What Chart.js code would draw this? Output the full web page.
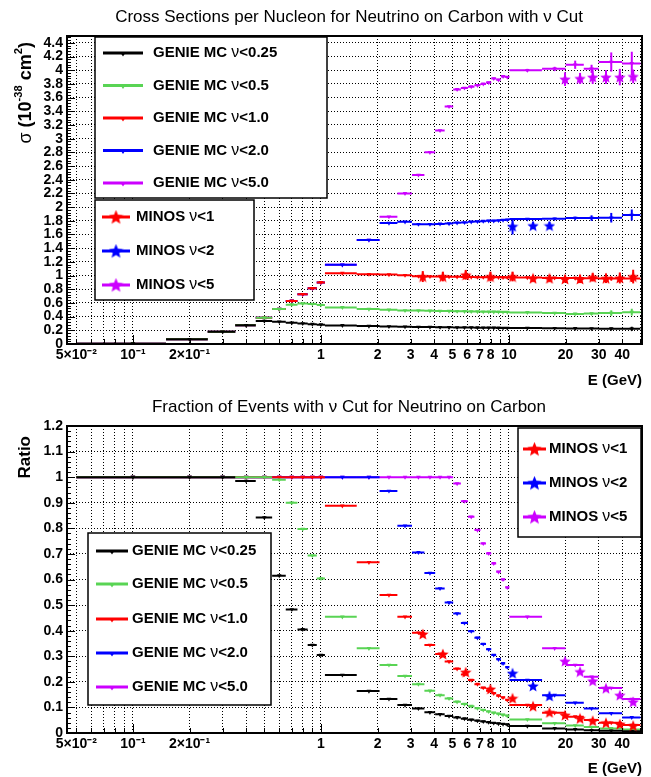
<!DOCTYPE html>
<html>
<head>
<meta charset="utf-8">
<title>Neutrino on Carbon with nu cut</title>
<script src="https://cdn.jsdelivr.net/npm/chart.js@4.4.1/dist/chart.umd.min.js"></script>
<style>
  html, body { margin: 0; padding: 0; background: #fff; }
  body { position: relative; width: 651px; height: 777px; overflow: hidden;
         font-family: "Liberation Sans", Arial, Helvetica, sans-serif; color: #000; }
  canvas { position: absolute; left: 0; }
  #xsChart { top: 0; }
  #ratioChart { top: 388px; }
  .title { position: absolute; left: 0; width: 698px; text-align: center; font-size: 17px; line-height: 18px; white-space: nowrap; }
  .ytitle { position: absolute; writing-mode: vertical-rl; transform: rotate(180deg);
            font-weight: bold; line-height: 20px; white-space: nowrap; }
  .ytitle sup { font-size: 62%; }
  .xtitle { position: absolute; right: 9px; font-weight: bold; font-size: 15px; line-height: 18px; }
</style>
</head>
<body>
<canvas id="xsChart" width="651" height="388"></canvas>
<canvas id="ratioChart" width="651" height="389"></canvas>

<div class="title" style="top:8px">Cross Sections per Nucleon for Neutrino on Carbon with ν Cut</div>
<div class="title" style="top:398px">Fraction of Events with ν Cut for Neutrino on Carbon</div>
<div class="ytitle" style="left:8px;top:42px;font-size:18px"><span style="font-weight:normal">σ</span> (10<sup>-38</sup> cm<sup>2</sup>)</div>
<div class="ytitle" style="left:15px;top:436px;font-size:17px">Ratio</div>
<div class="xtitle" style="top:371px">E (GeV)</div>
<div class="xtitle" style="top:759px">E (GeV)</div>

<script>
/* Cross sections and event fractions with nu cut - two ROOT-like panels (Chart.js) */

// energy bin edges of the GENIE histograms (GeV)
const binEdges = [0.05, 0.15, 0.25, 0.35, 0.45, 0.55, 0.65, 0.75, 0.85, 0.95, 1.05,
  1.55, 2.05, 2.55, 3.05, 3.55, 4.05, 4.55, 5.05, 5.55, 6.05, 6.55, 7.05, 7.55, 8.05,
  8.55, 9.05, 9.55, 10.05, 15, 20, 25, 30, 40, 50];

// cross section per nucleon (1e-38 cm2), one value per bin
const xsBlack = [0.005, 0.07, 0.18, 0.275, 0.335, 0.325, 0.31, 0.30, 0.29, 0.283,
  0.272, 0.262, 0.256, 0.252, 0.249, 0.247, 0.245, 0.243, 0.242, 0.241, 0.240, 0.239, 0.238, 0.237, 0.236, 0.235, 0.234, 0.233,
  0.232, 0.230, 0.228, 0.226, 0.224, 0.222];
const xsGreen = [0.005, 0.07, 0.18, 0.275, 0.385, 0.51, 0.575, 0.59, 0.585, 0.57,
  0.535, 0.51, 0.50, 0.49, 0.488, 0.485, 0.483, 0.481, 0.479, 0.477, 0.475, 0.474, 0.472, 0.471, 0.47, 0.469, 0.468, 0.467,
  0.462, 0.452, 0.44, 0.445, 0.452, 0.465];
const xsRed = [0.005, 0.07, 0.18, 0.275, 0.385, 0.51, 0.63, 0.727, 0.815, 0.90,
  1.035, 1.02, 1.015, 1.005, 0.99, 0.987, 0.985, 0.983, 0.981, 0.98, 0.978, 0.977, 0.976, 0.975, 0.975, 0.974, 0.973, 0.972,
  0.97, 0.966, 0.963, 0.961, 0.958, 0.956];
const xsBlue = [0.005, 0.07, 0.18, 0.275, 0.385, 0.51, 0.63, 0.727, 0.815, 0.90,
  1.157, 1.52, 1.767, 1.785, 1.75, 1.75, 1.755, 1.76, 1.77, 1.775, 1.785, 1.79, 1.795, 1.80, 1.80, 1.805, 1.81, 1.815,
  1.825, 1.83, 1.84, 1.84, 1.845, 1.885];
const xsMagenta = [0.005, 0.07, 0.18, 0.275, 0.385, 0.51, 0.63, 0.727, 0.815, 0.90,
  1.157, 1.52, 1.86, 2.20, 2.47, 2.80, 3.12, 3.47, 3.72, 3.74, 3.76, 3.78, 3.80, 3.82, 3.88, 3.86, 3.91, 3.90,
  4.00, 4.02, 4.08, 4.02, 4.12, 4.10];

// statistical errors of the last six bins (10-50 GeV)
const TAIL_START = 28;
const errTailBlack = [0.005, 0.005, 0.01, 0.01, 0.015, 0.03];
const errTailGreen = [0.01, 0.01, 0.015, 0.015, 0.04, 0.05];
const errTailRed = [0.01, 0.01, 0.02, 0.02, 0.03, 0.05];
const errTailBlue = [0.01, 0.015, 0.02, 0.04, 0.07, 0.08];
const errTailMagenta = [0.02, 0.03, 0.06, 0.06, 0.14, 0.17];

// fraction of events passing the cut
const frBlack = [1, 1, 1, 0.985, 0.842, 0.615, 0.483, 0.405, 0.344, 0.305,
  0.227, 0.164, 0.133, 0.109, 0.096, 0.081, 0.073, 0.066, 0.061, 0.056, 0.052, 0.048, 0.045, 0.042, 0.039, 0.037, 0.035, 0.033,
  0.027, 0.018, 0.014, 0.011, 0.009, 0.007];
const frGreen = [1, 1, 1, 1, 1, 0.99, 0.90, 0.797, 0.694, 0.604,
  0.454, 0.331, 0.266, 0.223, 0.191, 0.165, 0.148, 0.135, 0.122, 0.113, 0.105, 0.097, 0.090, 0.084, 0.079, 0.075, 0.071, 0.067,
  0.053, 0.038, 0.029, 0.023, 0.018, 0.014];
const frRed = [1, 1, 1, 1, 1, 1, 1, 1, 1, 1,
  0.888, 0.667, 0.539, 0.454, 0.392, 0.344, 0.309, 0.279, 0.251, 0.229, 0.207, 0.191, 0.177, 0.165, 0.155, 0.146, 0.139, 0.129,
  0.109, 0.079, 0.064, 0.051, 0.040, 0.031];
const frBlue = [1, 1, 1, 1, 1, 1, 1, 1, 1, 1, 1, 1,
  0.946, 0.81, 0.706, 0.625, 0.565, 0.51, 0.467, 0.43, 0.398, 0.372, 0.348, 0.327, 0.305, 0.288, 0.272, 0.257,
  0.207, 0.148, 0.118, 0.096, 0.077, 0.061];
const frMagenta = [1, 1, 1, 1, 1, 1, 1, 1, 1, 1, 1, 1, 1, 1, 1, 1, 1, 1,
  0.975, 0.906, 0.845, 0.793, 0.741, 0.702, 0.663, 0.63, 0.60, 0.569,
  0.454, 0.331, 0.266, 0.22, 0.176, 0.133];

// MINOS points
const minosE1 = [3.48, 4.45, 5.89, 7.97, 10.45, 13.43, 16.42, 19.87, 23.88, 27.89, 32.81, 38.87, 45.77];
const minosXs1 = [0.985, 0.985, 1.01, 0.985, 0.985, 0.96, 0.96, 0.95, 0.95, 0.975, 0.96, 0.965, 0.985];
const minosXsErr1 = [0.08, 0.07, 0.07, 0.07, 0.07, 0.05, 0.05, 0.05, 0.06, 0.06, 0.07, 0.08, 0.1];
const minosFr1 = [0.387, 0.309, 0.238, 0.172, 0.136, 0.105, 0.081, 0.07, 0.057, 0.048, 0.040, 0.035, 0.029];
const minosE2 = [10.45, 13.43, 16.42];
const minosXs2 = [1.72, 1.73, 1.73];
const minosXsErr2 = [0.12, 0.05, 0.05];
const minosFr2 = [0.234, 0.184, 0.145];
const minosE5 = [19.87, 23.88, 27.89, 32.81, 38.87, 45.77];
const minosXs5 = [3.87, 3.88, 3.90, 3.90, 3.90, 3.91];
const minosXsErr5 = [0.1, 0.08, 0.1, 0.1, 0.12, 0.1];
const minosFr5 = [0.281, 0.24, 0.204, 0.175, 0.148, 0.122];

// axis ticks
const xTickValues = [0.05, 0.06, 0.07, 0.08, 0.09, 0.1, 0.2, 0.3, 0.4, 0.5, 0.6, 0.7, 0.8, 0.9,
  1, 2, 3, 4, 5, 6, 7, 8, 9, 10, 20, 30, 40, 50];
const xTickText = ['5×10⁻²', '', '', '', '', '10⁻¹', '2×10⁻¹', '', '', '', '', '', '', '',
  '1', '2', '3', '4', '5', '6', '7', '8', '', '10', '20', '30', '40', ''];
const yTicksXs = [0, 0.2, 0.4, 0.6, 0.8, 1, 1.2, 1.4, 1.6, 1.8, 2, 2.2, 2.4, 2.6, 2.8, 3, 3.2, 3.4, 3.6, 3.8, 4, 4.2, 4.4];
const yTicksFr = [0, 0.1, 0.2, 0.3, 0.4, 0.5, 0.6, 0.7, 0.8, 0.9, 1, 1.1, 1.2];

const FONT = '"Liberation Sans", Arial, Helvetica, sans-serif';
const COLORS = { black: '#000000', green: '#59d454', red: '#ff0000', blue: '#0000ff', magenta: '#cc00ff' };
const X_MIN = 0.0446;
const X_MAX = 51;

Chart.defaults.font.family = FONT;

function starImage(color, size) {
  const c = document.createElement('canvas');
  c.width = size; c.height = size;
  const g = c.getContext('2d');
  const R = size / 2, r = R * 0.45;
  g.beginPath();
  for (let k = 0; k < 10; k += 1) {
    const ang = -Math.PI / 2 + k * Math.PI / 5;
    const rr = k % 2 ? r : R;
    g.lineTo(R + rr * Math.cos(ang), R + 0.6 + rr * Math.sin(ang));
  }
  g.closePath();
  g.fillStyle = color;
  g.fill();
  return c;
}

function histPoints(values) {
  const pts = [];
  values.forEach((v, i) => {
    const lo = binEdges[i], hi = binEdges[i + 1];
    pts.push({ x: lo, y: v }, { x: (lo + hi) / 2, y: v }, { x: hi, y: v }, { x: hi, y: null });
  });
  return pts;
}

function mcDataset(label, color, values, tailErr) {
  const errs = values.map((v, i) => (tailErr && i >= TAIL_START ? tailErr[i - TAIL_START] : 0));
  return {
    label,
    data: histPoints(values),
    isHist: true,
    errs,
    borderColor: color,
    backgroundColor: color,
    borderWidth: 2,
    pointRadius: (c) => (c.index % 4 === 1 ? 2.6 : 0),
    pointStyle: 'triangle',
    pointRotation: 180,
    pointBorderWidth: 0,
    spanGaps: false,
    fill: false,
    tension: 0,
  };
}

function minosDataset(label, color, energies, values, errs) {
  return {
    label,
    data: energies.map((e, i) => ({ x: e, y: values[i] })),
    errs: errs || null,
    borderColor: color,
    backgroundColor: color,
    showLine: false,
    pointStyle: starImage(color, 12),
    pointRadius: 5,
    order: -1,
  };
}

// vertical error bars
const errorBars = {
  id: 'errorBars',
  afterDatasetsDraw(chart) {
    const { ctx } = chart;
    const y = chart.scales.y;
    chart.data.datasets.forEach((ds, di) => {
      if (!ds.errs) return;
      const meta = chart.getDatasetMeta(di);
      ctx.save();
      ctx.beginPath();
      ctx.rect(chart.chartArea.left, chart.chartArea.top, chart.chartArea.width, chart.chartArea.height);
      ctx.clip();
      ctx.strokeStyle = ds.borderColor;
      ctx.lineWidth = 2;
      ds.errs.forEach((e, i) => {
        if (!e) return;
        const idx = ds.isHist ? 4 * i + 1 : i;
        const pt = meta.data[idx];
        const v = ds.data[idx].y;
        ctx.beginPath();
        ctx.moveTo(pt.x, y.getPixelForValue(v - e));
        ctx.lineTo(pt.x, y.getPixelForValue(v + e));
        ctx.stroke();
      });
      ctx.restore();
    });
  },
};

// frame, inward tick marks and boxed legends
function drawLabel(ctx, text, x, y) {
  const parts = text.split('ν');
  ctx.textBaseline = 'middle';
  ctx.textAlign = 'left';
  ctx.fillStyle = '#000';
  let cx = x;
  parts.forEach((p, k) => {
    if (k > 0) {
      ctx.font = `16px ${FONT}`;
      ctx.fillText('ν', cx, y);
      cx += ctx.measureText('ν').width;
    }
    ctx.font = `bold 15px ${FONT}`;
    ctx.fillText(p, cx, y);
    cx += ctx.measureText(p).width;
  });
}

const rootFrame = {
  id: 'rootFrame',
  afterDraw(chart, args, opts) {
    const { ctx, chartArea: a } = chart;
    const { x, y } = chart.scales;
    ctx.save();
    ctx.strokeStyle = '#000';
    ctx.lineWidth = 1;
    ctx.beginPath();
    xTickValues.forEach((v) => {
      const px = Math.round(x.getPixelForValue(v)) + 0.5;
      const len = (v === 0.1 || v === 1 || v === 10) ? 9 : 5;
      ctx.moveTo(px, a.bottom);
      ctx.lineTo(px, a.bottom - len);
    });
    const yt = opts.yTicks;
    const step = yt[1] - yt[0];
    yt.forEach((v) => {
      for (let k = 0; k < 5; k += 1) {
        const val = v + (k * step) / 5;
        if (val > y.max) break;
        const py = Math.round(y.getPixelForValue(val)) + 0.5;
        ctx.moveTo(a.left, py);
        ctx.lineTo(a.left + (k === 0 ? 8 : 4), py);
      }
    });
    ctx.stroke();
    ctx.lineWidth = 2;
    ctx.strokeRect(a.left, a.top, a.right - a.left, a.bottom - a.top);

    (opts.boxes || []).forEach((box) => {
      ctx.fillStyle = '#fff';
      ctx.fillRect(box.x, box.y, box.w, box.h);
      ctx.strokeStyle = '#000';
      ctx.lineWidth = 1.5;
      ctx.strokeRect(box.x, box.y, box.w, box.h);
      box.rows.forEach((rowY, k) => {
        const ds = chart.data.datasets[box.datasets[k]];
        const color = ds.borderColor;
        ctx.strokeStyle = color;
        ctx.lineWidth = 3;
        ctx.beginPath();
        ctx.moveTo(box.lineX[0], rowY);
        ctx.lineTo(box.lineX[1], rowY);
        ctx.stroke();
        const cx = (box.lineX[0] + box.lineX[1]) / 2;
        if (box.star) {
          const img = starImage(color, 15);
          ctx.drawImage(img, cx - 7.5, rowY - 7.5);
        } else {
          ctx.fillStyle = color;
          ctx.beginPath();
          ctx.moveTo(cx - 3, rowY - 1);
          ctx.lineTo(cx + 3, rowY - 1);
          ctx.lineTo(cx, rowY + 3.5);
          ctx.closePath();
          ctx.fill();
        }
        drawLabel(ctx, ds.label, box.textX, rowY);
      });
    });
    ctx.restore();
  },
};

function panelOptions(yTicks, yMax, padTop, boxes) {
  const tickFont = { family: FONT, weight: 'bold', size: 14 };
  return {
    responsive: false,
    animation: false,
    events: [],
    layout: { padding: { left: 0, right: 9, top: padTop, bottom: 0 } },
    plugins: {
      legend: { display: false },
      tooltip: { enabled: false },
      title: { display: false },
      rootFrame: { yTicks, boxes },
    },
    scales: {
      x: {
        type: 'logarithmic',
        min: X_MIN,
        max: X_MAX,
        afterBuildTicks: (s) => { s.ticks = xTickValues.map((v) => ({ value: v })); },
        afterFit: (s) => { s.height = 44; },
        ticks: {
          autoSkip: false, maxRotation: 0, minRotation: 0, padding: 3,
          color: '#000', font: tickFont,
          callback: (v) => { const k = xTickValues.indexOf(v); return k >= 0 ? xTickText[k] : ''; },
        },
        grid: { color: '#000', lineWidth: 1, drawTicks: false },
        border: { display: false, dash: [1, 2] },
      },
      y: {
        type: 'linear',
        min: 0,
        max: yMax,
        afterBuildTicks: (s) => { s.ticks = yTicks.map((v) => ({ value: v })); },
        afterFit: (s) => { s.width = 67; },
        ticks: {
          autoSkip: false, padding: 4, color: '#000', font: tickFont,
          callback: (v) => String(Math.round(v * 10) / 10),
        },
        grid: { color: '#000', lineWidth: 1, drawTicks: false },
        border: { display: false, dash: [1, 2] },
      },
    },
  };
}

const genieLabels = ['GENIE MC ν<0.25', 'GENIE MC ν<0.5', 'GENIE MC ν<1.0', 'GENIE MC ν<2.0', 'GENIE MC ν<5.0'];
const minosLabels = ['MINOS ν<1', 'MINOS ν<2', 'MINOS ν<5'];

new Chart(document.getElementById('xsChart').getContext('2d'), {
  type: 'line',
  data: {
    datasets: [
      mcDataset(genieLabels[0], COLORS.black, xsBlack, errTailBlack),
      mcDataset(genieLabels[1], COLORS.green, xsGreen, errTailGreen),
      mcDataset(genieLabels[2], COLORS.red, xsRed, errTailRed),
      mcDataset(genieLabels[3], COLORS.blue, xsBlue, errTailBlue),
      mcDataset(genieLabels[4], COLORS.magenta, xsMagenta, errTailMagenta),
      minosDataset(minosLabels[0], COLORS.red, minosE1, minosXs1, minosXsErr1),
      minosDataset(minosLabels[1], COLORS.blue, minosE2, minosXs2, minosXsErr2),
      minosDataset(minosLabels[2], COLORS.magenta, minosE5, minosXs5, minosXsErr5),
    ],
  },
  options: panelOptions(yTicksXs, 4.5, 36, [
    { x: 95, y: 37, w: 232, h: 161, rows: [53, 85.5, 118, 150.5, 183], lineX: [103, 143], textX: 153, datasets: [0, 1, 2, 3, 4] },
    { x: 95, y: 200, w: 159, h: 100, rows: [217, 251, 285], lineX: [102, 130], textX: 136, datasets: [5, 6, 7], star: true },
  ]),
  plugins: [errorBars, rootFrame],
});

new Chart(document.getElementById('ratioChart').getContext('2d'), {
  type: 'line',
  data: {
    datasets: [
      mcDataset(genieLabels[0], COLORS.black, frBlack),
      mcDataset(genieLabels[1], COLORS.green, frGreen),
      mcDataset(genieLabels[2], COLORS.red, frRed),
      mcDataset(genieLabels[3], COLORS.blue, frBlue),
      mcDataset(genieLabels[4], COLORS.magenta, frMagenta),
      minosDataset(minosLabels[0], COLORS.red, minosE1, minosFr1),
      minosDataset(minosLabels[1], COLORS.blue, minosE2, minosFr2),
      minosDataset(minosLabels[2], COLORS.magenta, minosE5, minosFr5),
    ],
  },
  options: panelOptions(yTicksFr, 1.2, 38, [
    { x: 88, y: 145, w: 183, h: 172, rows: [163, 196, 231, 265, 299], lineX: [96, 128], textX: 132, datasets: [0, 1, 2, 3, 4] },
    { x: 518, y: 40, w: 123, h: 109, rows: [61, 95, 129], lineX: [523, 546], textX: 549, datasets: [5, 6, 7], star: true },
  ]),
  plugins: [errorBars, rootFrame],
});
</script>
</body>
</html>
